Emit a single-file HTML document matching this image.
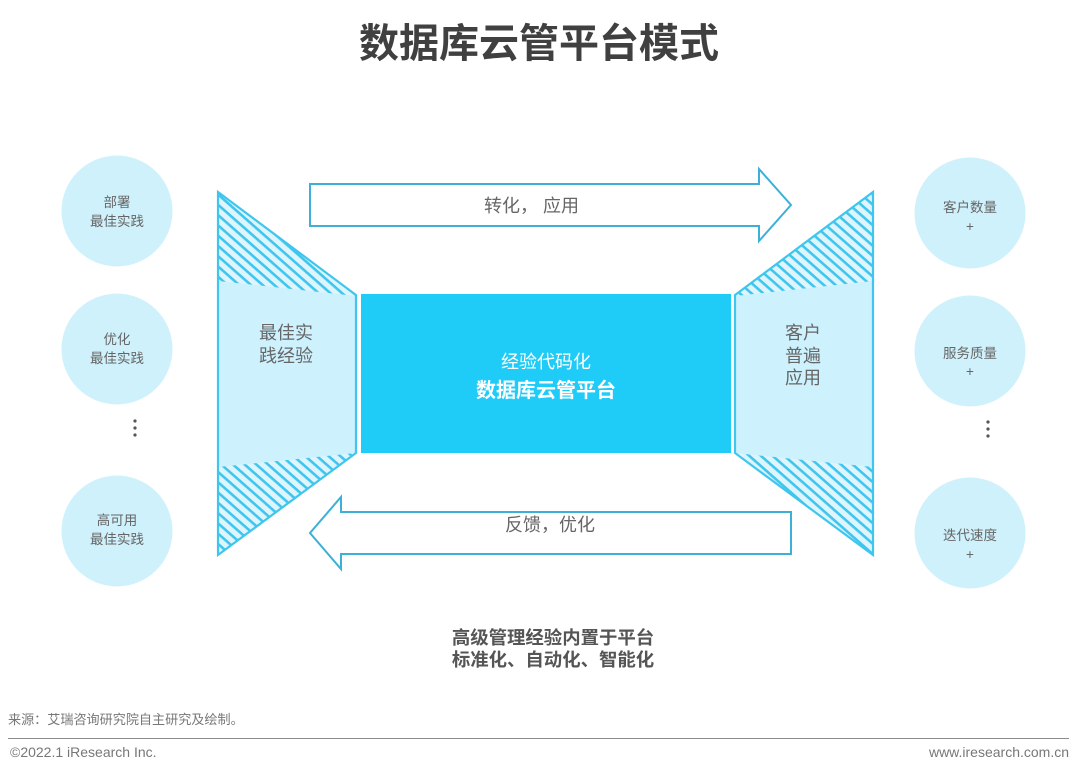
<!DOCTYPE html>
<html lang="zh">
<head>
<meta charset="utf-8">
<style>
html,body{margin:0;padding:0;background:#fff;width:1080px;height:772px;overflow:hidden}
svg{display:block}
text{font-family:"Liberation Sans","Noto Sans CJK SC",sans-serif;fill:#666}
.c{text-anchor:middle}
</style>
</head>
<body>
<svg width="1080" height="772" viewBox="0 0 1080 772" xmlns="http://www.w3.org/2000/svg">
<defs>
<pattern id="hl" patternUnits="userSpaceOnUse" width="7.72" height="7.72" patternTransform="translate(218 203) rotate(41.3)">
<rect width="7.72" height="7.72" fill="#dff5fd"/>
<rect x="0" y="0" width="7.72" height="2.6" fill="#3fc6ee"/>
</pattern>
<pattern id="hr" patternUnits="userSpaceOnUse" width="7.72" height="7.72" patternTransform="translate(748 453) rotate(41.3)">
<rect width="7.72" height="7.72" fill="#dff5fd"/>
<rect x="0" y="0" width="7.72" height="2.6" fill="#3fc6ee"/>
</pattern>
</defs>

<text class="c" x="539" y="57" font-size="40" font-weight="700" style="fill:#404040">数据库云管平台模式</text>

<circle cx="117" cy="211" r="55.5" fill="#cff1fb"/>
<circle cx="117" cy="349" r="55.5" fill="#cff1fb"/>
<circle cx="117" cy="531" r="55.5" fill="#cff1fb"/>
<circle cx="970" cy="213" r="55.5" fill="#cff1fb"/>
<circle cx="970" cy="351" r="55.5" fill="#cff1fb"/>
<circle cx="970" cy="533" r="55.5" fill="#cff1fb"/>

<g font-size="13.5">
<text class="c" x="117" y="207">部署</text>
<text class="c" x="117" y="226">最佳实践</text>
<text class="c" x="117" y="344">优化</text>
<text class="c" x="117" y="363">最佳实践</text>
<text class="c" x="117" y="525">高可用</text>
<text class="c" x="117" y="544">最佳实践</text>
<text class="c" x="970" y="212">客户数量</text>
<text class="c" x="970" y="231">+</text>
<text class="c" x="970" y="358">服务质量</text>
<text class="c" x="970" y="376">+</text>
<text class="c" x="970" y="540">迭代速度</text>
<text class="c" x="970" y="559">+</text>
</g>

<g fill="#555">
<circle cx="135" cy="421" r="1.6"/><circle cx="135" cy="428" r="1.6"/><circle cx="135" cy="435" r="1.6"/>
<circle cx="988" cy="422" r="1.6"/><circle cx="988" cy="429" r="1.6"/><circle cx="988" cy="436" r="1.6"/>
</g>

<!-- left trapezoid -->
<polygon points="218,192 356,295 356,453 218,555" fill="url(#hl)"/>
<polygon points="218,281 356,296 356,453 218,467" fill="#cdf1fd"/>
<polygon points="218,192 356,295 356,453 218,555" fill="none" stroke="#3fc6ee" stroke-width="2.2"/>

<!-- right trapezoid -->
<polygon points="873,192 735,295 735,453 873,555" fill="url(#hr)"/>
<polygon points="873,281 735,296 735,453 873,467" fill="#cdf1fd"/>
<polygon points="873,192 735,295 735,453 873,555" fill="none" stroke="#3fc6ee" stroke-width="2.2"/>

<rect x="361" y="294" width="370" height="159" fill="#1fcbf7"/>

<!-- arrows -->
<polygon points="310,184 759,184 759,169 791,205 759,241 759,226 310,226" fill="#fff" stroke="#3cb0d6" stroke-width="2"/>
<polygon points="791,512 341,512 341,497 310,533 341,569 341,554 791,554" fill="#fff" stroke="#3cb0d6" stroke-width="2"/>

<g font-size="18">
<text class="c" x="286" y="339">最佳实</text>
<text class="c" x="286" y="362">践经验</text>
<text class="c" x="803" y="339">客户</text>
<text class="c" x="803" y="362">普遍</text>
<text class="c" x="803" y="384">应用</text>
<text x="484" y="212">转化， 应用</text>
<text x="505" y="531">反馈，优化</text>
<text class="c" x="546" y="368" style="fill:#fff">经验代码化</text>
<text class="c" x="546" y="397" font-size="20" font-weight="700" style="fill:#fff">数据库云管平台</text>
<text class="c" x="553" y="644" font-size="18.4" font-weight="700" style="fill:#555">高级管理经验内置于平台</text>
<text class="c" x="553" y="666" font-size="18.4" font-weight="700" style="fill:#555">标准化、自动化、智能化</text>
</g>

<text x="8" y="724" font-size="13.1" style="fill:#777">来源：艾瑞咨询研究院自主研究及绘制。</text>
<rect x="8" y="738" width="1061" height="1" fill="#8c8c8c"/>
<text x="10" y="757" font-size="14" style="fill:#777">©2022.1 iResearch Inc.</text>
<text x="1069" y="757" font-size="14" text-anchor="end" style="fill:#777">www.iresearch.com.cn</text>
</svg>
</body>
</html>
